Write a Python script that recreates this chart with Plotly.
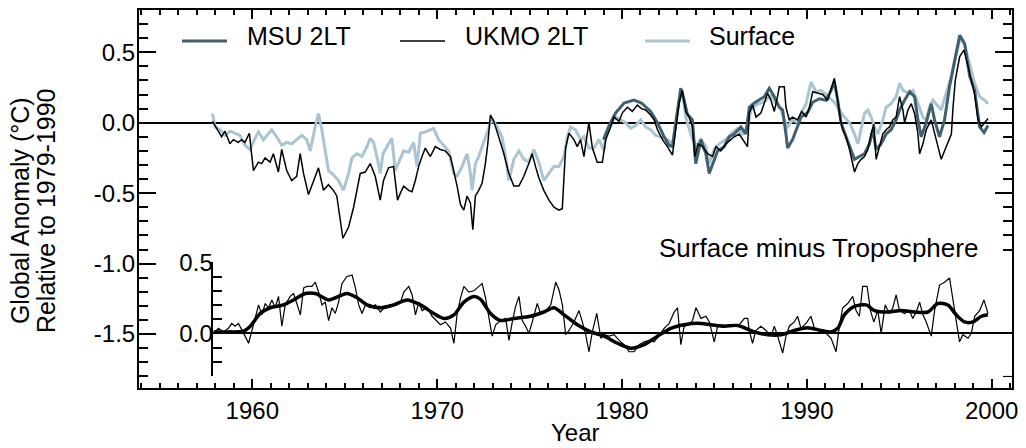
import plotly.graph_objects as go

# ---------------- data ----------------
UKMO_YEAR = [1957.85, 1958.07, 1958.34, 1958.52, 1958.79, 1958.97, 1959.24, 1959.42, 1959.60, 1959.84,
             1960.06, 1960.33, 1960.51, 1960.69, 1960.96, 1961.14, 1961.41, 1961.59, 1961.86, 1962.13,
             1962.40, 1962.59, 1962.77, 1963.04, 1963.31, 1963.58, 1963.85, 1964.12, 1964.39, 1964.57,
             1964.90, 1965.21, 1965.48, 1965.66, 1965.84, 1966.11, 1966.38, 1966.65, 1966.92, 1967.10,
             1967.37, 1967.64, 1967.86, 1968.01, 1968.19, 1968.46, 1968.64, 1968.82, 1969.00, 1969.18,
             1969.36, 1969.63, 1969.90, 1970.17, 1970.44, 1970.72, 1970.90, 1971.08, 1971.26, 1971.44,
             1971.62, 1971.80, 1971.93, 1972.07, 1972.25, 1972.43, 1972.61, 1972.74, 1972.88, 1973.06,
             1973.33, 1973.61, 1973.88, 1974.15, 1974.42, 1974.69, 1974.96, 1975.14, 1975.32, 1975.50,
             1975.77, 1976.05, 1976.32, 1976.59, 1976.77, 1976.86, 1976.95, 1977.13, 1977.40, 1977.58,
             1977.76, 1977.94, 1978.12, 1978.21, 1978.40, 1978.66, 1978.94, 1979.12, 1979.39, 1979.57,
             1979.84, 1980.02, 1980.29, 1980.56, 1980.83, 1981.05, 1981.28, 1981.55, 1981.74, 1981.92,
             1982.19, 1982.46, 1982.73, 1982.91, 1983.09, 1983.27, 1983.45, 1983.63, 1983.81, 1983.94,
             1984.12, 1984.36, 1984.63, 1984.90, 1985.08, 1985.35, 1985.62, 1985.89, 1986.07, 1986.34,
             1986.61, 1986.79, 1986.89, 1987.07, 1987.25, 1987.52, 1987.70, 1987.88, 1988.06, 1988.24,
             1988.42, 1988.51, 1988.78, 1988.87, 1989.05, 1989.23, 1989.50, 1989.72, 1989.96, 1990.14,
             1990.32, 1990.59, 1990.86, 1991.13, 1991.31, 1991.49, 1991.67, 1991.82, 1991.94, 1992.12,
             1992.31, 1992.49, 1992.58, 1992.76, 1992.94, 1993.12, 1993.30, 1993.48, 1993.62, 1993.75,
             1993.93, 1994.11, 1994.29, 1994.47, 1994.65, 1994.83, 1995.02, 1995.20, 1995.29, 1995.47,
             1995.65, 1995.83, 1996.01, 1996.10, 1996.28, 1996.46, 1996.73, 1996.91, 1997.09, 1997.27,
             1997.54, 1997.82, 1997.91, 1998.03, 1998.27, 1998.50, 1998.72, 1998.90, 1999.08, 1999.26,
             1999.44, 1999.62, 1999.80]
UKMO_VAL = [0.01, -0.04, -0.10, -0.06, -0.15, -0.12, -0.14, -0.12, -0.14, -0.075,
            -0.34, -0.28, -0.29, -0.25, -0.28, -0.22, -0.35, -0.19, -0.34, -0.41,
            -0.38, -0.22, -0.36, -0.51, -0.41, -0.32, -0.48, -0.44, -0.48, -0.52,
            -0.82, -0.74, -0.60, -0.48, -0.36, -0.35, -0.29, -0.38, -0.55, -0.41,
            -0.32, -0.31, -0.55, -0.50, -0.45, -0.48, -0.49, -0.41, -0.31, -0.24,
            -0.18, -0.24, -0.17, -0.19, -0.20, -0.24, -0.34, -0.45, -0.58, -0.62,
            -0.52, -0.57, -0.76, -0.52, -0.48, -0.43, -0.29, -0.15, 0.055, 0.01,
            -0.10, -0.22, -0.36, -0.45, -0.45, -0.38, -0.29, -0.22, -0.31, -0.39,
            -0.48, -0.55, -0.60, -0.62, -0.61, -0.38, -0.18, -0.075, -0.12, -0.17,
            -0.12, -0.24, -0.10, 0.0, -0.18, -0.28, -0.28, -0.12, -0.03, 0.04,
            0.01, 0.07, 0.11, 0.08, 0.125, 0.10, 0.09, 0.055, 0.02, -0.05,
            -0.12, -0.17, -0.23, -0.03, 0.14, 0.23, 0.08, 0.04, -0.03, -0.24,
            -0.15, -0.17, -0.22, -0.24, -0.17, -0.20, -0.15, -0.12, -0.10, -0.08,
            -0.14, -0.17, 0.07, 0.125, 0.04, 0.07, 0.14, 0.21, 0.16, 0.08,
            0.19, 0.255, 0.255, 0.11, 0.02, 0.04, 0.02, 0.08, 0.04, 0.11,
            0.22, 0.21, 0.20, 0.16, 0.23, 0.315, 0.16, 0.02, -0.05, -0.10,
            -0.19, -0.31, -0.35, -0.29, -0.26, -0.24, -0.19, -0.08, -0.01, -0.26,
            -0.17, -0.08, -0.05, -0.03, 0.02, 0.04, 0.185, 0.09, 0.0, 0.09,
            0.135, 0.065, -0.08, -0.22, -0.15, -0.05, 0.02, -0.08, -0.17, -0.26,
            -0.17, -0.08, 0.11, 0.30, 0.47, 0.515, 0.40, 0.30, 0.20, 0.02,
            -0.03, 0.0, 0.03]

MSU_YEAR = [1979.00, 1979.30, 1979.66, 1980.11, 1980.65, 1981.05, 1981.55, 1981.92, 1982.28, 1982.55,
            1982.73, 1983.00, 1983.18, 1983.36, 1983.54, 1983.81, 1983.99, 1984.27, 1984.54, 1984.72,
            1984.90, 1985.17, 1985.53, 1985.80, 1986.07, 1986.43, 1986.70, 1986.89, 1987.16, 1987.43,
            1987.70, 1987.97, 1988.24, 1988.51, 1988.69, 1988.87, 1988.96, 1989.23, 1989.50, 1989.69,
            1990.05, 1990.32, 1990.68, 1991.04, 1991.31, 1991.49, 1991.67, 1991.85, 1992.12, 1992.40,
            1992.58, 1992.85, 1993.12, 1993.39, 1993.57, 1993.75, 1994.02, 1994.29, 1994.56, 1994.83,
            1995.02, 1995.29, 1995.56, 1995.83, 1996.01, 1996.19, 1996.46, 1996.73, 1996.91, 1997.18,
            1997.45, 1997.72, 1997.99, 1998.27, 1998.54, 1998.81, 1999.08, 1999.35, 1999.59, 1999.80]
MSU_VAL = [-0.12, -0.02, 0.07, 0.14, 0.16, 0.14, 0.08, 0.0, -0.10, -0.16,
           -0.17, 0.08, 0.245, 0.16, 0.06, 0.02, -0.29, -0.12, -0.22, -0.36,
           -0.29, -0.20, -0.17, -0.10, -0.08, -0.03, -0.08, 0.11, 0.14, 0.16,
           0.185, 0.245, 0.185, 0.11, 0.09, -0.08, -0.18, -0.12, -0.03, 0.04,
           0.075, 0.145, 0.17, 0.16, 0.23, 0.29, 0.16, 0.0, -0.10, -0.19,
           -0.26, -0.24, -0.22, -0.15, -0.05, -0.19, -0.15, -0.08, -0.05, 0.02,
           0.09, 0.16, 0.22, 0.185, 0.02, -0.10, 0.0, 0.135, 0.02, -0.10,
           0.02, 0.255, 0.44, 0.62, 0.56, 0.33, 0.23, -0.03, -0.07, -0.02]

SFC_YEAR = [1957.85, 1957.98, 1958.25, 1958.52, 1958.79, 1959.06, 1959.33, 1959.60, 1959.88, 1960.15,
            1960.33, 1960.60, 1960.87, 1961.05, 1961.32, 1961.59, 1961.86, 1962.13, 1962.40, 1962.68,
            1962.95, 1963.13, 1963.40, 1963.58, 1963.76, 1963.94, 1964.12, 1964.39, 1964.66, 1964.93,
            1965.21, 1965.39, 1965.66, 1965.93, 1966.20, 1966.38, 1966.56, 1966.74, 1966.92, 1967.07,
            1967.28, 1967.55, 1967.73, 1968.01, 1968.19, 1968.46, 1968.73, 1968.91, 1969.09, 1969.36,
            1969.63, 1969.81, 1970.08, 1970.35, 1970.62, 1970.90, 1971.08, 1971.35, 1971.62, 1971.80,
            1971.89, 1972.07, 1972.25, 1972.43, 1972.61, 1972.79, 1972.97, 1973.24, 1973.51, 1973.70,
            1973.88, 1974.15, 1974.42, 1974.69, 1974.96, 1975.23, 1975.50, 1975.77, 1976.05, 1976.32,
            1976.59, 1976.86, 1977.04, 1977.22, 1977.49, 1977.76, 1977.94, 1978.21, 1978.48, 1978.76,
            1979.03, 1979.12, 1979.39, 1979.66, 1979.93, 1980.20, 1980.47, 1980.74, 1981.01, 1981.28,
            1981.55, 1981.83, 1982.10, 1982.46, 1982.73, 1982.91, 1983.09, 1983.27, 1983.45, 1983.72,
            1983.99, 1984.27, 1984.54, 1984.72, 1984.99, 1985.26, 1985.62, 1985.89, 1986.25, 1986.52,
            1986.79, 1986.98, 1987.25, 1987.52, 1987.79, 1988.06, 1988.33, 1988.60, 1988.78, 1988.96,
            1989.23, 1989.50, 1989.69, 1989.96, 1990.23, 1990.50, 1990.77, 1991.04, 1991.31, 1991.49,
            1991.76, 1992.03, 1992.31, 1992.58, 1992.76, 1992.94, 1993.12, 1993.30, 1993.48, 1993.66,
            1993.84, 1994.11, 1994.29, 1994.56, 1994.83, 1995.02, 1995.20, 1995.47, 1995.74, 1995.92,
            1996.10, 1996.28, 1996.46, 1996.64, 1996.82, 1997.00, 1997.27, 1997.54, 1997.82, 1998.09,
            1998.32, 1998.54, 1998.81, 1999.08, 1999.35, 1999.62, 1999.80]
SFC_VAL = [0.065, -0.03, -0.05, -0.09, -0.06, -0.075, -0.09, -0.16, -0.19, -0.11,
           -0.065, -0.12, -0.075, -0.05, -0.10, -0.16, -0.14, -0.15, -0.12, -0.09,
           -0.12, -0.20, -0.03, 0.065, -0.05, -0.21, -0.34, -0.37, -0.41, -0.48,
           -0.36, -0.25, -0.22, -0.24, -0.17, -0.11, -0.14, -0.24, -0.36, -0.22,
           -0.17, -0.11, -0.34, -0.26, -0.20, -0.21, -0.14, -0.31, -0.075, -0.065,
           -0.05, -0.04, -0.12, -0.16, -0.20, -0.36, -0.38, -0.31, -0.22, -0.36,
           -0.48, -0.29, -0.24, -0.17, -0.10, -0.03, 0.03, -0.03, -0.10, -0.24,
           -0.41, -0.26, -0.20, -0.26, -0.28, -0.19, -0.28, -0.41, -0.36, -0.31,
           -0.31, -0.24, -0.10, -0.03, -0.05, -0.12, -0.10, -0.18, -0.18, -0.12,
           -0.20, -0.09, 0.0, 0.04, 0.02, 0.0, -0.04, -0.02, 0.02, -0.03,
           -0.05, -0.09, -0.10, -0.12, -0.15, 0.02, 0.16, 0.21, 0.04, -0.08,
           -0.17, -0.12, -0.17, -0.29, -0.19, -0.15, -0.12, -0.08, -0.04, -0.08,
           -0.03, 0.09, 0.125, 0.14, 0.16, 0.19, 0.14, 0.10, 0.02, -0.03,
           0.02, 0.0, 0.065, 0.135, 0.29, 0.22, 0.23, 0.20, 0.17, 0.145,
           0.09, 0.04, 0.0, -0.08, -0.15, -0.03, 0.065, 0.09, 0.04, -0.03,
           -0.08, 0.02, 0.11, 0.135, 0.185, 0.28, 0.23, 0.21, 0.23, 0.17,
           0.11, 0.04, 0.02, 0.11, 0.16, 0.135, 0.09, 0.21, 0.33, 0.49,
           0.61, 0.55, 0.42, 0.28, 0.185, 0.16, 0.135]

DIFF_YEAR = [1957.89, 1958.16, 1958.43, 1958.70, 1958.88, 1959.06, 1959.24, 1959.42, 1959.60, 1959.79,
             1959.97, 1960.15, 1960.33, 1960.51, 1960.69, 1960.87, 1961.05, 1961.23, 1961.41, 1961.59,
             1961.77, 1962.04, 1962.22, 1962.40, 1962.59, 1962.77, 1962.95, 1963.22, 1963.40, 1963.58,
             1963.76, 1963.94, 1964.12, 1964.30, 1964.48, 1964.66, 1964.84, 1965.11, 1965.39, 1965.57,
             1965.75, 1965.93, 1966.11, 1966.38, 1966.65, 1966.92, 1967.19, 1967.46, 1967.73, 1968.01,
             1968.19, 1968.46, 1968.64, 1968.82, 1969.00, 1969.18, 1969.45, 1969.72, 1969.99, 1970.17,
             1970.44, 1970.72, 1970.90, 1971.08, 1971.26, 1971.44, 1971.71, 1971.98, 1972.16, 1972.43,
             1972.61, 1972.79, 1972.97, 1973.16, 1973.43, 1973.70, 1973.88, 1974.06, 1974.24, 1974.42,
             1974.60, 1974.78, 1974.96, 1975.14, 1975.41, 1975.59, 1975.87, 1976.14, 1976.41, 1976.59,
             1976.77, 1976.95, 1977.13, 1977.40, 1977.67, 1977.85, 1978.03, 1978.21, 1978.39, 1978.63,
             1978.85, 1979.03, 1979.30, 1979.57, 1979.84, 1980.11, 1980.38, 1980.65, 1980.92, 1981.20,
             1981.47, 1981.74, 1982.01, 1982.28, 1982.55, 1982.82, 1983.00, 1983.18, 1983.36, 1983.63,
             1983.81, 1984.00, 1984.27, 1984.54, 1984.72, 1984.99, 1985.17, 1985.44, 1985.71, 1986.07,
             1986.34, 1986.62, 1986.80, 1986.88, 1987.06, 1987.24, 1987.51, 1987.79, 1988.06, 1988.24,
             1988.42, 1988.69, 1988.87, 1989.05, 1989.32, 1989.50, 1989.68, 1989.95, 1990.22, 1990.41,
             1990.77, 1991.04, 1991.31, 1991.58, 1991.76, 1991.94, 1992.21, 1992.48, 1992.66, 1992.84,
             1993.02, 1993.26, 1993.44, 1993.62, 1993.84, 1994.02, 1994.24, 1994.47, 1994.65, 1994.83,
             1995.01, 1995.28, 1995.55, 1995.73, 1995.92, 1996.10, 1996.28, 1996.46, 1996.73, 1996.91,
             1997.18, 1997.45, 1997.72, 1997.90, 1998.08, 1998.26, 1998.44, 1998.72, 1998.90, 1999.08,
             1999.35, 1999.58, 1999.80]
DIFF_VAL = [0.0, 0.035, 0.01, 0.035, 0.07, 0.05, 0.07, 0.02, -0.02, -0.07,
            0.02, 0.13, 0.20, 0.13, 0.21, 0.18, 0.235, 0.18, 0.26, 0.05,
            0.20, 0.26, 0.28, 0.21, 0.13, 0.32, 0.33, 0.33, 0.36, 0.29,
            0.20, 0.22, 0.09, 0.18, 0.14, 0.22, 0.35, 0.40, 0.41, 0.32,
            0.20, 0.14, 0.20, 0.18, 0.20, 0.15, 0.19, 0.20, 0.20, 0.22,
            0.29, 0.33, 0.27, 0.13, 0.22, 0.16, 0.18, 0.12, 0.08, 0.06,
            0.08, 0.035, -0.07, 0.14, 0.25, 0.33, 0.29, 0.30, 0.32, 0.35,
            0.25, 0.105, -0.02, 0.06, 0.09, 0.105, -0.05, 0.08, 0.19, 0.26,
            0.09, 0.05, 0.0, 0.08, 0.21, 0.14, 0.16, 0.20, 0.36, 0.305,
            0.20, -0.01, 0.02, 0.08, 0.16, 0.08, -0.01, -0.13, 0.01, 0.14,
            -0.035, -0.01, -0.02, -0.01, -0.05, -0.08, -0.13, -0.13, -0.08, -0.06,
            -0.05, -0.06, -0.01, 0.035, 0.07, 0.15, 0.18, -0.08, 0.05, 0.06,
            0.09, 0.18, 0.105, 0.12, 0.08, -0.06, 0.05, 0.06, 0.05, 0.06,
            0.06, 0.105, 0.105, 0.02, -0.07, 0.02, 0.05, 0.02, -0.02, 0.05,
            -0.02, -0.14, -0.02, 0.05, 0.08, 0.12, 0.035, 0.07, 0.12, 0.035,
            0.01, 0.0, -0.035, -0.13, 0.05, 0.18, 0.21, 0.26, 0.16, 0.12,
            0.33, 0.33, 0.16, 0.08, 0.16, 0.0, 0.20, 0.14, 0.18, 0.27,
            0.16, 0.14, 0.16, 0.105, 0.15, 0.22, 0.13, 0.08, -0.02, 0.16,
            0.34, 0.36, 0.39, 0.25, 0.09, -0.06, -0.01, -0.035, 0.0, 0.12,
            0.16, 0.235, 0.14]

SMOOTH_YEAR = [1957.89, 1958.70, 1959.51, 1959.88, 1960.42, 1960.96, 1961.68, 1962.22, 1962.86, 1963.40,
               1964.12, 1964.66, 1965.11, 1965.66, 1966.20, 1966.92, 1967.64, 1968.37, 1969.09, 1969.81,
               1970.35, 1970.90, 1971.44, 1971.98, 1972.34, 1972.88, 1973.43, 1974.15, 1975.05, 1975.77,
               1976.32, 1976.86, 1977.58, 1978.30, 1979.03, 1979.75, 1980.47, 1981.20, 1981.92, 1982.64,
               1983.36, 1984.09, 1984.81, 1985.53, 1986.25, 1987.15, 1987.88, 1988.60, 1989.32, 1990.04,
               1990.77, 1991.31, 1991.67, 1992.03, 1992.57, 1993.21, 1993.66, 1994.38, 1995.10, 1995.82,
               1996.55, 1997.09, 1997.63, 1998.08, 1998.53, 1998.99, 1999.44, 1999.80]
SMOOTH_VAL = [0.01, 0.01, 0.015, 0.05, 0.14, 0.18, 0.20, 0.235, 0.28, 0.28,
              0.235, 0.26, 0.28, 0.25, 0.20, 0.18, 0.20, 0.235, 0.20, 0.14,
              0.105, 0.13, 0.22, 0.26, 0.24, 0.14, 0.09, 0.105, 0.12, 0.15,
              0.18, 0.13, 0.06, 0.01, -0.02, -0.07, -0.105, -0.08, -0.02, 0.035,
              0.06, 0.07, 0.06, 0.05, 0.055, 0.01, -0.01, -0.01, 0.02, 0.04,
              0.02, 0.01, 0.035, 0.13, 0.19, 0.20, 0.16, 0.15, 0.16, 0.15,
              0.15, 0.21, 0.20, 0.13, 0.08, 0.08, 0.12, 0.13]

MAIN_TICKS = [0.5, 0.0, -0.5, -1.0, -1.5]
MAIN_TICK_TEXT = ["0.5", "0.0", "-0.5", "-1.0", "-1.5"]
INSET_TICKS = [0.5, 0.0]
INSET_TICK_TEXT = ["0.5", "0.0"]
YEAR_TICKS = [1960, 1970, 1980, 1990, 2000]

SERIES_NAMES = ["MSU 2LT", "UKMO 2LT", "Surface"]

# ---------------- styling ----------------
FONT = "Liberation Sans, Arial, Helvetica, sans-serif"
C_MSU = "#3f6070"
C_UKMO = "#000000"
C_SFC = "#a9c5d3"

fig = go.Figure()
fig.add_trace(go.Scatter(x=SFC_YEAR, y=SFC_VAL, mode="lines", name="Surface",
                         line=dict(color=C_SFC, width=3)))
fig.add_trace(go.Scatter(x=MSU_YEAR, y=MSU_VAL, mode="lines", name="MSU 2LT",
                         line=dict(color=C_MSU, width=3)))
fig.add_trace(go.Scatter(x=UKMO_YEAR, y=UKMO_VAL, mode="lines", name="UKMO 2LT",
                         line=dict(color=C_UKMO, width=1.5)))
fig.add_trace(go.Scatter(x=DIFF_YEAR, y=DIFF_VAL, mode="lines", xaxis="x2", yaxis="y2",
                         line=dict(color="black", width=1.2)))
fig.add_trace(go.Scatter(x=SMOOTH_YEAR, y=SMOOTH_VAL, mode="lines", xaxis="x2", yaxis="y2",
                         line=dict(color="black", width=3.5, shape="spline", smoothing=0.8)))

axis_common = dict(showgrid=False, showline=True, linecolor="black", linewidth=2,
                   ticks="inside", tickcolor="black", tickwidth=1.5, automargin=False,
                   tickfont=dict(family=FONT, size=24, color="black"))

fig.update_layout(
    width=1026, height=448,
    margin=dict(l=139, r=14, t=10, b=60, autoexpand=False),
    paper_bgcolor="white", plot_bgcolor="white",
    showlegend=False,
    font=dict(family=FONT, size=24, color="black"),
    xaxis=dict(**axis_common, range=[1953.87, 2001.1], mirror="ticks",
               tickmode="array", tickvals=YEAR_TICKS, ticklen=9, zeroline=False,
               minor=dict(dtick=1, tick0=1960, ticks="inside", ticklen=5,
                          tickcolor="black", tickwidth=1.5)),
    yaxis=dict(**axis_common, range=[-1.883, 0.80], mirror="ticks",
               tickmode="array", tickvals=MAIN_TICKS, ticktext=MAIN_TICK_TEXT, ticklen=17,
               ticklabelstandoff=-3,
               zeroline=True, zerolinecolor="black", zerolinewidth=1.5,
               minor=dict(dtick=0.1, tick0=0, ticks="inside", ticklen=9,
                          tickcolor="black", tickwidth=1.5)),
    xaxis2=dict(domain=[0.0851, 1.0], range=[1957.88, 2001.1], anchor="y2", automargin=False,
                showline=False, showticklabels=False, ticks="", showgrid=False, zeroline=False),
    yaxis2=dict(showgrid=False, showline=True, linecolor="black", linewidth=1.5,
                ticks="inside", tickcolor="black", tickwidth=1.5, automargin=False,
                tickfont=dict(family=FONT, size=24, color="black"),
                domain=[0.032, 0.3325], range=[-0.3, 0.5], anchor="x2", side="left",
                tickmode="array", tickvals=INSET_TICKS, ticktext=INSET_TICK_TEXT, ticklen=17,
                ticklabelstandoff=-6,
                zeroline=True, zerolinecolor="black", zerolinewidth=1.5,
                minor=dict(dtick=0.1, tick0=0, ticks="inside", ticklen=9,
                           tickcolor="black", tickwidth=1.5)),
)

# axis titles (two-line y title, x title) as annotations
fig.add_annotation(text="Global Anomaly (°C)", xref="paper", yref="paper", x=-0.1363, y=0.468,
                   textangle=-90, xanchor="center", yanchor="middle", showarrow=False,
                   font=dict(family=FONT, size=25, color="black"))
fig.add_annotation(text="Relative to 1979-1990", xref="paper", yref="paper", x=-0.1065, y=0.468,
                   textangle=-90, xanchor="center", yanchor="middle", showarrow=False,
                   font=dict(family=FONT, size=25, color="black"))
fig.add_annotation(text="Year", xref="paper", yref="paper", x=0.5, y=-0.1587,
                   xanchor="center", yanchor="bottom", showarrow=False,
                   font=dict(family=FONT, size=24, color="black"))

fig.add_annotation(text="Surface minus Troposphere", xref="paper", yref="paper",
                   x=0.5934, y=0.370, xanchor="left", yanchor="middle", showarrow=False,
                   font=dict(family=FONT, size=26, color="black"))

# manual legend
legend_items = [
    (SERIES_NAMES[0], C_MSU, 3, 0.0493, 0.1214),
    (SERIES_NAMES[1], C_UKMO, 1.5, 0.2990, 0.3711),
    (SERIES_NAMES[2], C_SFC, 3, 0.5796, 0.6506),
]
for name, col, w, x0, xt in legend_items:
    fig.add_shape(type="line", xref="paper", yref="paper", x0=x0, x1=x0 + 0.0515,
                  y0=0.918, y1=0.918, line=dict(color=col, width=w))
    fig.add_annotation(text=name, xref="paper", yref="paper", x=xt, y=0.931,
                       xanchor="left", yanchor="middle", showarrow=False,
                       font=dict(family=FONT, size=25, color="black"))

fig.write_html("out.html")
